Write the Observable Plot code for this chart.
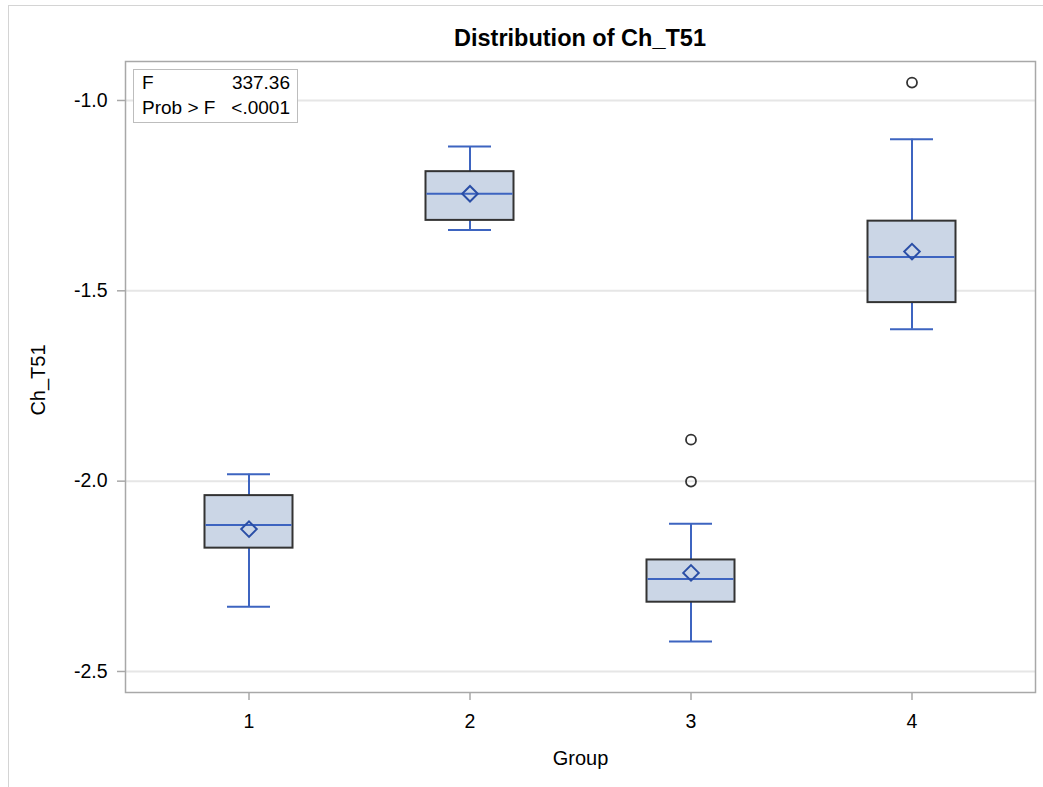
<!DOCTYPE html>
<html>
<head>
<meta charset="utf-8">
<script src="https://cdn.jsdelivr.net/npm/d3@7"></script>
<script src="https://cdn.jsdelivr.net/npm/@observablehq/plot@0.6"></script>
<style>
  html, body { margin: 0; padding: 0; background: #fff; }
  #page { position: relative; width: 1043px; height: 787px; overflow: hidden; font-family: "Liberation Sans", Arial, sans-serif; }
  #border { position: absolute; left: 8px; top: 5px; right: -5px; bottom: -5px; border-left: 1.5px solid #d4d4d4; border-top: 1.5px solid #d4d4d4; }
  #title { position: absolute; left: 0; top: 27px; width: 1043px; padding-left: 117px; box-sizing: border-box; text-align: center; font-weight: bold; font-size: 23.5px; line-height: 1; color: #000; }
  #chart { position: absolute; left: 0; top: 50px; }
  #inset { position: absolute; left: 133px; top: 69px; width: 165px; height: 54px; box-sizing: border-box; border: 1px solid #bdbdbd; background: #fff; font-size: 19px; color: #000; z-index: 2; }
  #inset span { position: absolute; line-height: 1; }
</style>
</head>
<body>
<div id="page">
  <div id="border"></div>
  <div id="title">Distribution of Ch_T51</div>
  <div id="chart"></div>
  <div id="inset"></div>
</div>
<script>
// ---- data ----
const groups      = ["1", "2", "3", "4"];
const whiskerLow  = [-2.330, -1.340, -2.421, -1.601];
const q1          = [-2.176, -1.315, -2.318, -1.531];
const median      = [-2.115, -1.245, -2.257, -1.411];
const q3          = [-2.038, -1.187, -2.207, -1.317];
const whiskerHigh = [-1.982, -1.121, -2.112, -1.102];
const meanValue   = [-2.126, -1.245, -2.241, -1.397];
const outlierGroup = ["3", "3", "4"];
const outlierValue = [-1.891, -2.001, -0.953];
const yTicks = [-2.5, -2.0, -1.5, -1.0];
const statLabels = ["F", "Prob > F"];
const statValues = ["337.36", "<.0001"];
const yLabel = "Ch_T51";
const xLabel = "Group";

// ---- tables built from the arrays ----
const boxes = groups.map((g, i) => ({
  group: g, lo: whiskerLow[i], q1: q1[i], med: median[i], q3: q3[i], hi: whiskerHigh[i], mean: meanValue[i]
}));
const outliers = outlierGroup.map((g, i) => ({group: g, value: outlierValue[i]}));

const blue = "#3d64c0";
const darkBlue = "#2a4ea6";
const boxInset = 66.5;
const capInset = 89;

const chart = Plot.plot({
  width: 1043,
  height: 737,
  marginTop: 11,
  marginBottom: 95,
  marginLeft: 125,
  marginRight: 8,
  style: { fontFamily: "'Liberation Sans', Arial, sans-serif", background: "transparent", color: "#000" },
  x: { type: "band", domain: groups, paddingInner: 0, paddingOuter: 0.05, axis: null },
  y: { domain: [-2.5552, -0.8976], axis: null },
  marks: [
    Plot.gridY(yTicks, { stroke: "#e6e6e6", strokeOpacity: 1, strokeWidth: 2 }),
    Plot.axisY({ ticks: yTicks, tickFormat: d => d.toFixed(1), tickSize: 8, tickPadding: 10, fontSize: 19.5, stroke: "#a8a8a8", strokeWidth: 1.5, fill: "#000", label: null }),
    Plot.axisX({ tickSize: 8, tickPadding: 14, fontSize: 19.5, stroke: "#a8a8a8", strokeWidth: 1.5, fill: "#000", label: null }),
    Plot.ruleX(boxes, { x: "group", y1: "lo", y2: "q1", stroke: blue, strokeWidth: 2 }),
    Plot.ruleX(boxes, { x: "group", y1: "q3", y2: "hi", stroke: blue, strokeWidth: 2 }),
    Plot.tickY(boxes, { x: "group", y: "lo", insetLeft: capInset, insetRight: capInset, stroke: blue, strokeWidth: 2 }),
    Plot.tickY(boxes, { x: "group", y: "hi", insetLeft: capInset, insetRight: capInset, stroke: blue, strokeWidth: 2 }),
    Plot.barY(boxes, { x: "group", y1: "q1", y2: "q3", insetLeft: boxInset, insetRight: boxInset, fill: "#cbd6e6", stroke: "#333", strokeWidth: 2 }),
    Plot.tickY(boxes, { x: "group", y: "med", insetLeft: boxInset + 1, insetRight: boxInset + 1, stroke: blue, strokeWidth: 2 }),
    Plot.dot(boxes, { x: "group", y: "mean", symbol: "diamond2", r: 7, stroke: darkBlue, strokeWidth: 2, fill: "none" }),
    Plot.dot(outliers, { x: "group", y: "value", r: 5, stroke: "#333", strokeWidth: 1.8, fill: "none" }),
    Plot.frame({ stroke: "#a8a8a8", strokeWidth: 1.5 }),
    Plot.text([yLabel], { frameAnchor: "left", textAnchor: "middle", rotate: -90, dx: -87, dy: 3, fontSize: 20, fill: "#000" }),
    Plot.text([xLabel], { frameAnchor: "bottom", dy: 72, fontSize: 20, fill: "#000" })
  ]
});
document.getElementById("chart").appendChild(chart);

// inset statistics table
const inset = document.getElementById("inset");
statLabels.forEach((lab, i) => {
  const a = document.createElement("span");
  a.textContent = lab;
  a.style.left = "8px";
  a.style.top = (3 + i * 25) + "px";
  inset.appendChild(a);
  const b = document.createElement("span");
  b.textContent = statValues[i];
  b.style.right = "7px";
  b.style.top = (3 + i * 25) + "px";
  inset.appendChild(b);
});
</script>
</body>
</html>
